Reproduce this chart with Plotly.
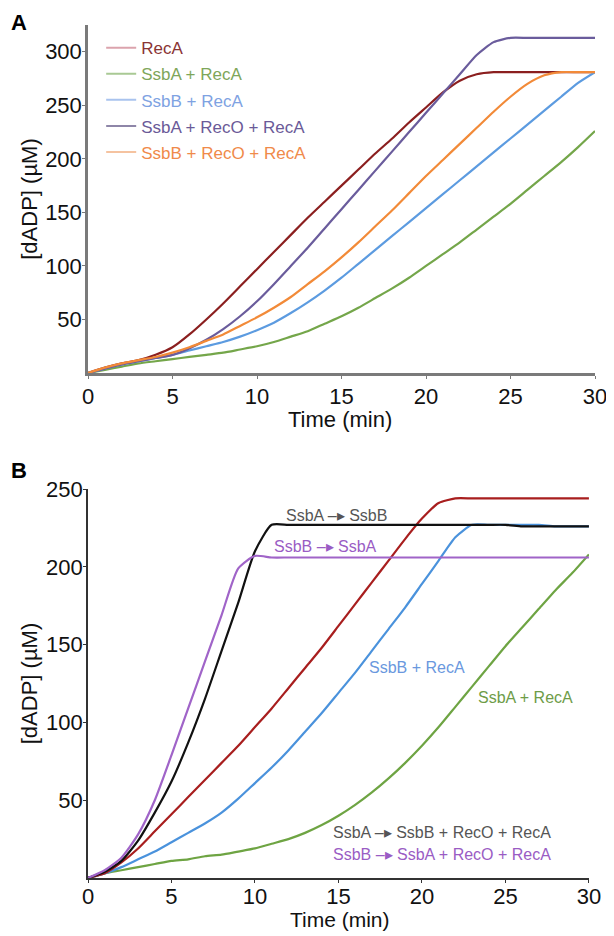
import plotly.graph_objects as go

# ---------------- data ----------------
time_min = list(range(31))

# Panel A  ([dADP] in uM)
a_reca = [0,5,9,12,17,24,36,50,65,81,97,113,129,145,160,175,190,205,219,234,248,262,273,279,281,281,281,281,281,281,281]
a_ssba_reca = [0,3,6,9,11,13,15,17,19,22,25,29,34,39,46,53,61,70,79,89,100,111,122,134,146,158,171,184,197,211,226]
a_ssbb_reca = [0,4,8,11,14,17,21,25,29,34,40,47,56,66,77,89,102,115,128,141,154,167,180,193,206,219,232,245,258,271,281]
a_ssba_reco_reca = [0,4,8,11,14,17,23,31,41,53,67,83,100,117,135,153,171,189,207,225,243,261,279,297,309,313,313,313,313,313,313]
a_ssbb_reco_reca = [0,5,9,12,15,19,24,30,36,44,52,61,71,83,95,108,122,137,152,168,184,199,214,229,244,258,270,278,281,281,281]

# Panel B
b_reca = [0,3,10,19,30,41,52,63,74,85,97,109,122,135,148,162,176,190,204,218,231,241,244,244,244,244,244,244,244,244,244]
b_ssbb_reca = [0,3,7,12,17,23,29,35,42,51,61,71,82,94,106,119,132,146,160,174,189,204,219,227,227,227,227,227,226,226,226]
b_ssba_reca = [0,3,5,7,9,11,12,14,15,17,19,22,25,29,34,40,47,55,64,74,85,97,110,123,136,149,161,173,185,196,208]
b_ab_reco_reca = [0,4,11,24,42,62,87,115,146,177,210,227,227,227,227,227,227,227,227,227,227,227,227,227,227,227,226,226,226,226,226]
b_ba_reco_reca = [0,5,13,28,50,79,109,139,169,199,207,206,206,206,206,206,206,206,206,206,206,206,206,206,206,206,206,206,206,206,206]

a_names = ["RecA", "SsbA + RecA", "SsbB + RecA", "SsbA + RecO + RecA", "SsbB + RecO + RecA"]
a_series = [a_reca, a_ssba_reca, a_ssbb_reca, a_ssba_reco_reca, a_ssbb_reco_reca]
a_colors = ["#8b1f1f", "#74a64a", "#5c9be0", "#6a5c9c", "#f28a38"]
a_legend_line = ["#dba3ad", "#a9c994", "#a9c3ee", "#8e86a8", "#f5c3a0"]
a_legend_text = ["#8a3434", "#7ea65a", "#7ea2e2", "#6a5a98", "#f08a4a"]

b_series = [b_ssba_reca, b_ssbb_reca, b_reca, b_ab_reco_reca, b_ba_reco_reca]
b_colors = ["#6ea443", "#4a92dc", "#a81e1e", "#111111", "#a064c8"]

xticks = [0, 5, 10, 15, 20, 25, 30]
a_yticks = [50, 100, 150, 200, 250, 300]
b_yticks = [50, 100, 150, 200, 250]

FONT = "Liberation Sans, Arial, sans-serif"
ARROW = "\u2013\u25b8"

fig = go.Figure()

for name, ys, col in zip(a_names, a_series, a_colors):
    fig.add_trace(go.Scatter(x=time_min, y=ys, mode="lines", xaxis="x", yaxis="y",
                             line=dict(color=col, width=2.2, shape="spline", smoothing=0.6),
                             showlegend=False, hoverinfo="skip"))
# faded legend entries with coloured text
for i, (name, lc, tc) in enumerate(zip(a_names, a_legend_line, a_legend_text)):
    fig.add_trace(go.Scatter(x=[None], y=[None], mode="lines", xaxis="x", yaxis="y",
                             line=dict(color=lc, width=2),
                             name=f"<span style='color:{tc}'>{name}</span>",
                             legendgroup=f"g{i}", showlegend=True))

for ys, col in zip(b_series, b_colors):
    fig.add_trace(go.Scatter(x=time_min, y=ys, mode="lines", xaxis="x2", yaxis="y2",
                             line=dict(color=col, width=2.2, shape="spline", smoothing=0.6),
                             showlegend=False, hoverinfo="skip"))

axA = dict(showgrid=False, zeroline=False, showline=True, ticks="outside", ticklen=3,
           automargin=False, tickfont=dict(size=22, color="#111", family=FONT))

fig.update_layout(
    template="none",
    width=614, height=936,
    paper_bgcolor="white", plot_bgcolor="white",
    margin=dict(l=80, r=27, t=17, b=66),
    font=dict(family=FONT, color="#111"),
    showlegend=True,
    xaxis=dict(axA, domain=[0, 1], anchor="y", range=[0, 30], tickvals=xticks,
               linecolor="#7a7a7a", linewidth=2.5, tickcolor="#7a7a7a", ticklabelstandoff=-1),
    yaxis=dict(axA, domain=[0.592, 1.0], anchor="x", range=[0, 325], tickvals=a_yticks,
               linecolor="#7a7a7a", linewidth=2.5, tickcolor="#7a7a7a", ticklabelstandoff=-4,
               title=dict(text="[dADP] (µM)", font=dict(size=22, family=FONT), standoff=2)),
    xaxis2=dict(axA, domain=[0, 0.988], anchor="y2", range=[0, 30], tickvals=xticks,
                linecolor="#333", linewidth=1.6, tickcolor="#333", ticklabelstandoff=-5),
    yaxis2=dict(axA, domain=[0, 0.456], anchor="x2", range=[0, 250], tickvals=b_yticks,
                linecolor="#333", linewidth=1.6, tickcolor="#333", ticklabelstandoff=-4,
                title=dict(text="[dADP] (µM)", font=dict(size=22, family=FONT), standoff=2)),
    legend=dict(x=0.026, y=0.994, xanchor="left", yanchor="top",
                font=dict(size=17, family=FONT), bgcolor="rgba(255,255,255,0)",
                tracegroupgap=1, itemwidth=30),
)

ann = []
ann.append(dict(text="<b>A</b>", xref="paper", yref="paper", x=-0.136, y=1.0035,
                xanchor="center", yanchor="middle", showarrow=False, font=dict(size=22, color="#000")))
ann.append(dict(text="<b>B</b>", xref="paper", yref="paper", x=-0.136, y=0.478,
                xanchor="center", yanchor="middle", showarrow=False, font=dict(size=22, color="#000")))
# x-axis titles
ann.append(dict(text="Time (min)", xref="paper", yref="paper", x=0.497, y=0.537,
                xanchor="center", yanchor="middle", showarrow=False, font=dict(size=22, color="#111")))
ann.append(dict(text="Time (min)", xref="paper", yref="paper", x=0.497, y=-0.0492,
                xanchor="center", yanchor="middle", showarrow=False, font=dict(size=21, color="#111")))

b_labels = [
    ("RecA", 27.8, 251, "#a83030"),
    (f"SsbA {ARROW} SsbB", 14.9, 233, "#555555"),
    (f"SsbB {ARROW} SsbA", 14.2, 213, "#9a5cc4"),
    ("SsbB + RecA", 19.7, 135.6, "#6a98de"),
    ("SsbA + RecA", 26.2, 116, "#6e9c48"),
    (f"SsbA {ARROW} SsbB + RecO + RecA", 21.2, 29, "#555555"),
    (f"SsbB {ARROW} SsbA + RecO + RecA", 21.2, 15, "#9a5cc4"),
]
for txt, x, y, c in b_labels:
    ann.append(dict(text=txt, xref="x2", yref="y2", x=x, y=y, showarrow=False,
                    xanchor="center", yanchor="middle", font=dict(size=16, color=c, family=FONT)))
fig.update_layout(annotations=ann)

fig.write_html("out.html")
